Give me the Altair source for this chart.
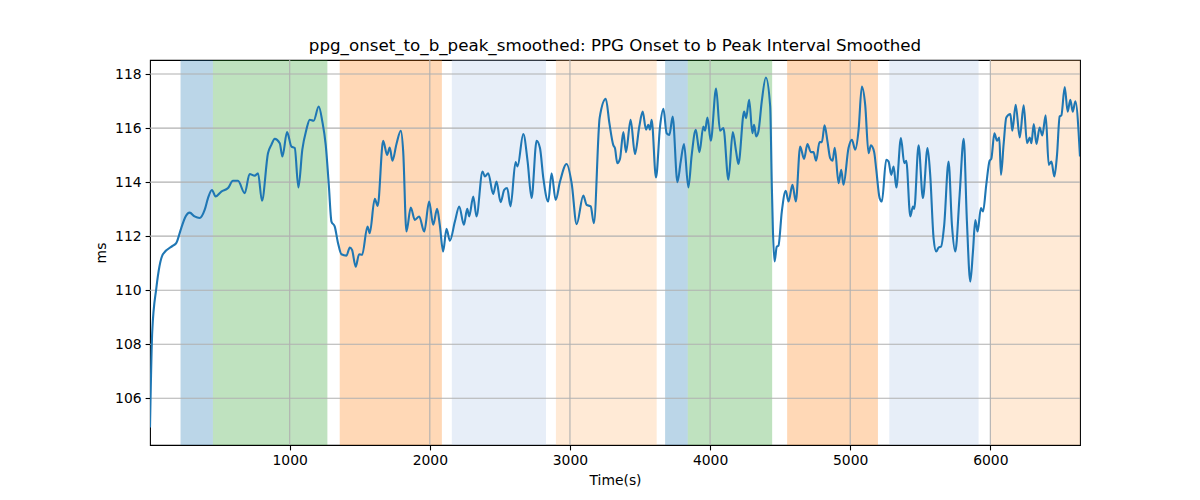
import altair as alt
import pandas as pd

time_s = [3, 19, 48, 95, 167, 190, 226, 257, 286, 321, 357, 393, 417, 445, 471, 512, 560, 595, 631, 679,
          714, 750, 774, 802, 845, 869, 893, 929, 948, 981, 1012, 1036, 1062, 1090, 1119, 1143, 1171, 1207,
          1233, 1257, 1279, 1298, 1321, 1345, 1369, 1405, 1429, 1445, 1471, 1495, 1517, 1555, 1571, 1607,
          1628, 1667, 1695, 1714, 1733, 1762, 1793, 1810, 1833, 1864, 1893, 1924, 1960, 1995, 2024, 2052,
          2071, 2095, 2119, 2143, 2179, 2210, 2243, 2267, 2281, 2310, 2333, 2376, 2393, 2417, 2452, 2476,
          2505, 2531, 2552, 2576, 2612, 2626, 2667, 2698, 2726, 2762, 2786, 2810, 2845, 2869, 2898, 2929,
          2976, 3012, 3048, 3095, 3119, 3148, 3171, 3212, 3256, 3281, 3310, 3321, 3338, 3357, 3381, 3400,
          3433, 3464, 3495, 3519, 3543, 3559, 3571, 3583, 3614, 3643, 3667, 3690, 3710, 3733, 3767, 3790,
          3814, 3845, 3869, 3898, 3910, 3924, 3952, 3964, 3981, 4005, 4043, 4071, 4095, 4131, 4162, 4186,
          4202, 4243, 4257, 4279, 4302, 4314, 4329, 4345, 4369, 4398, 4429, 4440, 4448, 4460, 4476, 4488,
          4512, 4540, 4560, 4588, 4612, 4643, 4671, 4695, 4719, 4738, 4757, 4781, 4798, 4817, 4838, 4857,
          4874, 4890, 4917, 4936, 4952, 4988, 5012, 5036, 5060, 5083, 5107, 5131, 5148, 5171, 5186, 5210,
          5226, 5257, 5274, 5293, 5310, 5329, 5362, 5386, 5400, 5429, 5448, 5457, 5488, 5519, 5552, 5571,
          5595, 5614, 5631, 5648, 5671, 5702, 5726, 5750, 5781, 5810, 5833, 5857, 5876, 5893, 5909, 5933,
          5948, 5971, 5995, 6007, 6029, 6048, 6064, 6076, 6095, 6114, 6143, 6157, 6181, 6210, 6238, 6262,
          6281, 6293, 6310, 6329, 6352, 6371, 6395, 6417, 6436, 6457, 6476, 6495, 6507, 6531, 6552, 6571,
          6588, 6607, 6640]

ms = [104.92, 108.47, 110.07, 111.33, 111.65, 111.74, 112.3, 112.73, 112.87, 112.73, 112.67, 112.97, 113.41,
      113.71, 113.47, 113.65, 113.78, 114.05, 114.05, 113.59, 114.3, 114.24, 114.33, 113.31, 115.07, 115.38,
      115.6, 115.44, 114.95, 115.85, 115.32, 115.26, 113.8, 115.2, 115.94, 116.31, 116.27, 116.8, 116.24,
      115.38, 113.9, 112.54, 112.36, 111.74, 111.33, 111.28, 111.58, 111.49, 110.87, 111.33, 111.31, 112.36,
      112.11, 113.38, 113.12, 115.53, 115.01, 115.28, 114.79, 115.41, 115.9, 115.13, 112.17, 113.06, 112.6,
      112.73, 112.17, 113.28, 112.42, 113.01, 112.42, 111.43, 112.27, 111.83, 112.54, 113.1, 112.42, 113.01,
      112.73, 113.47, 112.73, 114.39, 114.21, 114.33, 113.56, 114.02, 113.26, 113.71, 113.78, 113.1, 114.74,
      114.58, 115.78, 114.76, 113.41, 115.53, 115.26, 114.15, 113.28, 114.33, 113.34, 114.02, 114.67, 113.96,
      112.44, 113.5, 113.16, 113.1, 112.48, 116.38, 117.08, 116.2, 115.36, 115.26, 114.7, 114.86, 115.85,
      115.11, 116.31, 115.04, 116.06, 116.61, 115.94, 116.12, 115.94, 116.31, 114.17, 116.06, 116.71, 115.81,
      115.75, 116.43, 114.0, 114.74, 115.41, 113.8, 115.01, 115.94, 115.57, 115.11, 116.06, 115.9, 116.39,
      115.53, 117.46, 115.9, 116.0, 114.09, 115.85, 115.13, 114.67, 116.61, 116.37, 117.05, 115.81, 116.12,
      115.69, 115.87, 116.99, 117.87, 116.8, 114.02, 112.3, 111.06, 111.61, 111.65, 112.91, 113.68, 113.28,
      113.9, 113.28, 115.32, 114.86, 115.41, 115.11, 115.11, 114.79, 115.48, 115.48, 116.1, 115.5, 114.89,
      114.79, 115.27, 113.96, 114.46, 113.9, 115.26, 115.57, 115.2, 115.94, 117.54, 116.86, 115.07, 115.36,
      115.11, 114.46, 113.41, 113.28, 114.83, 114.76, 114.27, 114.58, 113.8, 115.63, 114.7, 114.79, 112.73,
      113.1, 113.01, 115.36, 113.41, 115.26, 114.27, 111.93, 111.43, 111.58, 111.61, 112.42, 114.76, 112.42,
      111.43, 113.53, 115.6, 112.54, 110.32, 111.43, 112.6, 112.17, 113.04, 112.91, 113.9, 114.79, 114.86,
      115.81, 115.53, 115.65, 114.27, 115.41, 116.39, 116.52, 115.9, 116.86, 115.65, 116.84, 115.44, 115.65,
      115.44, 116.15, 115.41, 116.02, 115.73, 116.47, 114.64, 114.76, 114.21, 115.01, 116.43, 116.47, 117.52,
      116.61, 117.05, 116.61, 116.99, 114.95]

band_start = [221, 452, 1357, 2157, 2900, 3679, 3841, 4550, 5279, 6000]
band_end = [452, 1269, 2086, 2829, 3619, 3841, 4443, 5198, 5916, 6640]
band_color = ["#1f77b4", "#2ca02c", "#ff7f0e", "#aec7e8", "#ffbb78",
              "#1f77b4", "#2ca02c", "#ff7f0e", "#aec7e8", "#ffbb78"]

x_ticks = [1000, 2000, 3000, 4000, 5000, 6000]
y_ticks = [106, 108, 110, 112, 114, 116, 118]

X_DOMAIN = [3, 6640]
Y_DOMAIN = [104.27, 118.52]
W, H = 930, 385

line_df = pd.DataFrame({"t": time_s, "v": ms})
band_df = pd.DataFrame({"s": band_start, "e": band_end, "c": band_color})
xg_df = pd.DataFrame({"t": x_ticks})
yg_df = pd.DataFrame({"v": y_ticks})

xscale = alt.Scale(domain=X_DOMAIN, nice=False, zero=False)
yscale = alt.Scale(domain=Y_DOMAIN, nice=False, zero=False)

xaxis = alt.Axis(values=x_ticks, title="Time(s)", grid=False, format="d")
yaxis = alt.Axis(values=y_ticks, title="ms", grid=False, format="d")

bands = alt.Chart(band_df).mark_rect(opacity=0.3, clip=True).encode(
    x=alt.X("s:Q", scale=xscale, axis=xaxis),
    x2="e:Q",
    y=alt.value(0),
    y2=alt.value(H),
    color=alt.Color("c:N", scale=None),
)

xgrid = alt.Chart(xg_df).mark_rule(color="#b0b0b0", strokeWidth=1.1).encode(
    x=alt.X("t:Q", scale=xscale, axis=xaxis),
    y=alt.value(0),
    y2=alt.value(H),
)

ygrid = alt.Chart(yg_df).mark_rule(color="#b0b0b0", strokeWidth=1.1).encode(
    y=alt.Y("v:Q", scale=yscale, axis=yaxis),
    x=alt.value(0),
    x2=alt.value(W),
)

line = alt.Chart(line_df).mark_line(color="#1f77b4", strokeWidth=2.1, interpolate="monotone", clip=True).encode(
    x=alt.X("t:Q", scale=xscale, axis=xaxis),
    y=alt.Y("v:Q", scale=yscale, axis=yaxis),
)

chart = alt.layer(bands, xgrid, ygrid, line).properties(
    width=W,
    height=H,
    title=alt.TitleParams(
        "ppg_onset_to_b_peak_smoothed: PPG Onset to b Peak Interval Smoothed",
        font="DejaVu Sans", fontSize=16.7, fontWeight="normal", color="black",
        anchor="middle", baseline="alphabetic", offset=8, dy=16,
    ),
    autosize=alt.AutoSizeParams(type="none"),
    padding={"left": 142, "top": 52, "right": 20, "bottom": 52},
).configure_view(
    stroke="black", strokeWidth=1.1
).configure_axis(
    labelFont="DejaVu Sans", labelFontSize=13.9, labelColor="black",
    titleFont="DejaVu Sans", titleFontSize=13.9, titleFontWeight="normal", titleColor="black",
    tickColor="black", tickSize=4.9, tickWidth=1.1, labelPadding=4, domain=False,
).configure_axisX(titlePadding=6).configure_axisY(titlePadding=6)

chart.save("out.html", embed_options={"renderer": "svg", "actions": False})
